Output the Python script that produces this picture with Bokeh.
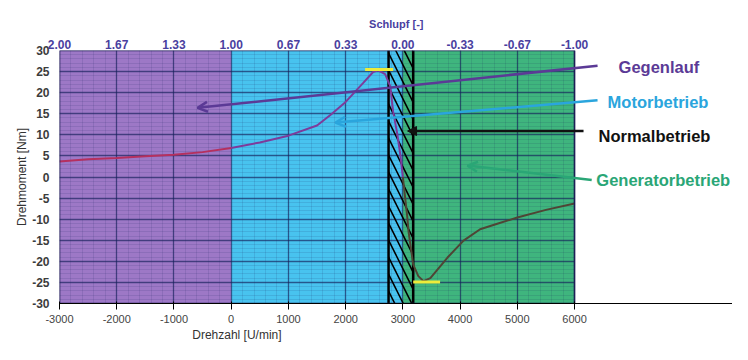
from bokeh.plotting import figure
from bokeh.models import FixedTicker, LinearAxis, Label, Arrow, OpenHead, NormalHead
from bokeh.embed import file_html
from bokeh.resources import INLINE

# ---- data -------------------------------------------------------------
speed = [-3000, -2500, -2000, -1500, -1000, -500, 0, 500, 1000, 1500, 1750,
         2000, 2300, 2480, 2570, 2690, 2780, 2830, 2900, 2955, 3000, 3077,
         3100, 3180, 3270, 3360, 3480, 3780, 4060, 4350, 4650, 5000, 5500, 6000]
torque = [3.7, 4.2, 4.5, 4.9, 5.3, 5.9, 6.9, 8.2, 9.8, 12.2, 14.9,
          17.8, 22.2, 24.9, 25.3, 24.4, 21.5, 15.5, 10.4, 5.3, 0.0, -9.5,
          -13.0, -20.7, -23.5, -24.7, -24.0, -19.1, -15.1, -12.4, -11.1, -9.6, -7.8, -6.3]

rpm_ticks = [-3000, -2000, -1000, 0, 1000, 2000, 3000, 4000, 5000, 6000]
rpm_labels = ["-3000", "-2000", "-1000", "0", "1000", "2000", "3000", "4000", "5000", "6000"]
slip_labels = ["2.00", "1.67", "1.33", "1.00", "0.67", "0.33", "0.00", "-0.33", "-0.67", "-1.00"]
torque_ticks = [-30, -25, -20, -15, -10, -5, 0, 5, 10, 15, 20, 25, 30]
torque_labels = ["-30", "-25", "-20", "-15", "-10", "-5", "0", "5", "10", "15", "20", "25", "30"]

region_left = [-3000, 0, 3000]
region_right = [0, 3000, 6000]
region_colors = ["#9d78c6", "#48c3ef", "#3fb57e"]
curve_colors = ["#b5305f", "#7d3b9b", "#4f4535"]

hatch_left = [2750]
hatch_right = [3180]

peak_x0 = [2340, 3180]
peak_x1 = [2830, 3650]
peak_y = [25.5, -24.9]

notes = ["Gegenlauf", "Motorbetrieb", "Normalbetrieb", "Generatorbetrieb"]
note_colors = ["#5b3a96", "#2aa5dd", "#111111", "#2aa676"]
note_x = [6769, 6577, 6419, 6380]
note_y = [26.0, 17.8, 9.8, -0.7]
arrow_x0 = [6402, 6402, 6157, 6300]
arrow_y0 = [26.4, 18.2, 10.9, -0.7]
arrow_x1 = [-588, 1823, 3082, 4130]
arrow_y1 = [16.4, 12.9, 10.9, 2.7]

FONT = "Liberation Sans"
X_MIN, X_MAX = -3000, 6000      # chart area
X_VIEW_END = 8760               # extra room on the right for the annotations
BOTTOM_TITLE_AT = 100           # off-centre axis titles, as in the reference
TOP_TITLE_AT = 2885

# ---- figure -----------------------------------------------------------
p = figure(width=732, height=344,
           x_range=(X_MIN, X_VIEW_END), y_range=(-30, 30),
           output_backend="svg", toolbar_location=None,
           min_border_left=59, min_border_right=0,
           min_border_top=50, min_border_bottom=28)
p.background_fill_color = "white"
p.border_fill_color = "white"
p.outline_line_color = None

# regions
p.quad(left=region_left, right=region_right, top=30, bottom=-30,
       fill_color=region_colors, line_color=None, level="image")

# grids
p.xgrid.ticker = FixedTicker(ticks=rpm_ticks, minor_ticks=list(range(X_MIN, X_MAX + 1, 200)))
p.ygrid.ticker = FixedTicker(ticks=torque_ticks, minor_ticks=list(range(-30, 31, 1)))
for g in (p.xgrid, p.ygrid):
    g.grid_line_color = "#15205a"
    g.grid_line_alpha = 0.62
    g.grid_line_width = 1.3
    g.minor_grid_line_color = "#15205a"
    g.minor_grid_line_alpha = 0.12

# blank out the annotation margin (right of the chart area)
p.quad(left=[X_MAX], right=[X_VIEW_END], top=30.5, bottom=-30.5,
       fill_color="white", line_color=None)

# hatched normal-operation zone
p.quad(left=hatch_left, right=hatch_right, top=30, bottom=-30,
       fill_alpha=0, line_color=None, hatch_pattern="\\",
       hatch_color="black", hatch_scale=17, hatch_weight=1.6)
p.segment(x0=hatch_left + hatch_right, y0=-30, x1=hatch_left + hatch_right, y1=30,
          line_color="black", line_width=2.5)

# torque curve, coloured per region
for lo, hi, col in zip(region_left, region_right, curve_colors):
    xs = [s for s in speed if lo <= s <= hi]
    ys = [t for s, t in zip(speed, torque) if lo <= s <= hi]
    p.line(xs, ys, line_color=col, line_width=2)

# breakdown torque markers
p.segment(x0=peak_x0, y0=peak_y, x1=peak_x1, y1=peak_y, line_color="#ecec3a", line_width=3)

# chart area border
p.quad(left=[X_MIN], right=[X_MAX], top=30, bottom=-30,
       fill_alpha=0, line_color="#1c1f55", line_width=1.6)

# ---- axes -------------------------------------------------------------
p.xaxis.ticker = FixedTicker(ticks=rpm_ticks)
p.xaxis.major_label_overrides = dict(zip(rpm_ticks, rpm_labels))
p.yaxis.ticker = FixedTicker(ticks=torque_ticks)
p.yaxis.major_label_overrides = dict(zip(torque_ticks, torque_labels))
top = LinearAxis(ticker=FixedTicker(ticks=rpm_ticks),
                 major_label_overrides=dict(zip(rpm_ticks, slip_labels)))
p.add_layout(top, "above")

# axis titles as single tick labels (so they can sit off-centre)
bottom_title = LinearAxis(ticker=FixedTicker(ticks=[BOTTOM_TITLE_AT]),
                          major_label_overrides={BOTTOM_TITLE_AT: "Drehzahl [U/min]"})
p.add_layout(bottom_title, "below")
top_title = LinearAxis(ticker=FixedTicker(ticks=[TOP_TITLE_AT]),
                       major_label_overrides={TOP_TITLE_AT: "Schlupf [-]"})
p.add_layout(top_title, "above")

for ax in (p.xaxis[0], p.yaxis[0], top, bottom_title, top_title):
    ax.axis_line_color = None
    ax.major_tick_line_color = None
    ax.minor_tick_line_color = None
    ax.major_tick_out = 0
    ax.major_tick_in = 0
    ax.minor_tick_out = 0
    ax.major_label_text_font = FONT
    ax.major_label_text_font_size = "12px"
    ax.major_label_text_font_style = "bold"
    ax.major_label_text_color = "#3c3c3c"
top.major_label_text_color = "#4a3f9f"
top.major_label_standoff = 10
p.xaxis[0].major_label_standoff = 2
p.yaxis[0].major_label_standoff = 10
bottom_title.major_label_standoff = 2
bottom_title.major_label_text_font_style = "normal"
bottom_title.major_label_text_color = "#333333"
top_title.major_label_standoff = 7
top_title.major_label_text_font_size = "11px"
top_title.major_label_text_color = "#4a3f9f"

p.yaxis.axis_label = "Drehmoment [Nm]"
p.yaxis.axis_label_text_font = FONT
p.yaxis.axis_label_text_font_size = "12px"
p.yaxis.axis_label_text_font_style = "normal"
p.yaxis.axis_label_text_color = "#333333"
p.yaxis.axis_label_standoff = 0

# ---- annotations ------------------------------------------------------
for i, (txt, col) in enumerate(zip(notes, note_colors)):
    head = NormalHead(size=9, fill_color=col, line_color=col) if txt == "Normalbetrieb" \
        else OpenHead(size=10, line_color=col, line_width=2.5)
    p.add_layout(Arrow(x_start=arrow_x0[i], y_start=arrow_y0[i],
                       x_end=arrow_x1[i], y_end=arrow_y1[i],
                       line_color=col, line_width=2.5, end=head))
    p.add_layout(Label(x=note_x[i], y=note_y[i], text=txt, text_align="left",
                       text_baseline="middle", text_font=FONT, text_font_size="16.5px",
                       text_font_style="bold", text_color=col))

open("out.html", "w").write(file_html(p, INLINE))
